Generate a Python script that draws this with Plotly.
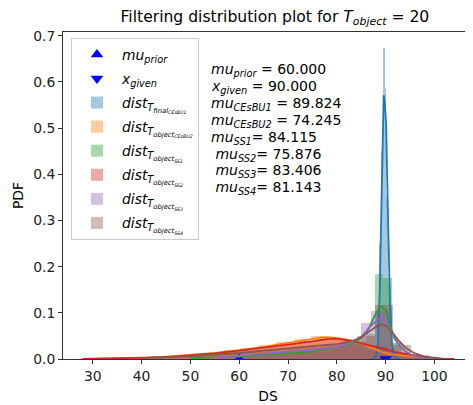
import plotly.graph_objects as go

# ---------------- data ----------------
mu_prior = 60.0
x_given = 90.0
mu_values = [60.000, 90.000, 89.824, 74.245, 84.115, 75.876, 83.406, 81.143]

x_ticks = [30, 40, 50, 60, 70, 80, 90, 100]
y_ticks = [0.0, 0.1, 0.2, 0.3, 0.4, 0.5, 0.6, 0.7]

# histograms: left bin edges, bin width, heights
blue_left = [87.72, 88.07, 88.42, 88.77, 89.12, 89.47, 89.82, 90.17, 90.52, 90.87, 91.22, 91.57]
blue_w = 0.35
blue_h = [0.008, 0.03, 0.10, 0.25, 0.45, 0.674, 0.586, 0.35, 0.16, 0.06, 0.02, 0.005]

orange_left = [28.0, 31.6, 35.2, 38.8, 42.4, 46.0, 49.6, 53.2, 56.8, 60.4, 64.0, 67.6, 71.2, 74.8, 78.4, 82.0, 85.6, 89.2, 92.8, 96.4]
orange_w = 3.6
orange_h = [0.001, 0.001, 0.002, 0.003, 0.005, 0.007, 0.010, 0.014, 0.019, 0.024, 0.030, 0.036, 0.044, 0.049, 0.045, 0.034, 0.020, 0.010, 0.006, 0.002]

green_left = [59.8, 61.55, 63.3, 65.05, 66.8, 68.55, 70.3, 72.05, 73.8, 75.55, 77.3, 79.05, 80.8, 82.55, 84.3, 86.05, 87.8, 89.55, 91.3, 93.05, 94.8]
green_w = 1.75
green_h = [0.003, 0.004, 0.005, 0.006, 0.008, 0.009, 0.011, 0.012, 0.014, 0.016, 0.018, 0.022, 0.026, 0.030, 0.038, 0.055, 0.183, 0.176, 0.035, 0.012, 0.004]

red_left = [27.6, 31.3, 35.0, 38.7, 42.4, 46.1, 49.8, 53.5, 57.2, 60.9, 64.6, 68.3, 72.0, 75.7, 79.4, 83.1, 86.8, 90.5, 94.2, 97.9]
red_w = 3.7
red_h = [0.001, 0.001, 0.001, 0.002, 0.004, 0.006, 0.009, 0.012, 0.017, 0.022, 0.027, 0.032, 0.038, 0.044, 0.043, 0.035, 0.026, 0.014, 0.007, 0.002]

purple_left = [55.6, 57.7, 59.8, 61.9, 64.0, 66.1, 68.2, 70.3, 72.4, 74.5, 76.6, 78.7, 80.8, 82.9, 85.0, 87.1, 89.2, 91.3, 93.4, 95.5]
purple_w = 2.1
purple_h = [0.003, 0.005, 0.006, 0.008, 0.010, 0.012, 0.014, 0.016, 0.018, 0.020, 0.022, 0.025, 0.028, 0.035, 0.077, 0.103, 0.105, 0.035, 0.010, 0.003]

brown_left = [39.7, 43.4, 47.1, 50.8, 54.5, 58.2, 61.9, 65.6, 69.3, 73.0, 76.7, 80.4, 84.1, 87.8, 91.5, 95.2, 98.9]
brown_w = 3.7
brown_h = [0.002, 0.004, 0.005, 0.007, 0.010, 0.013, 0.016, 0.020, 0.024, 0.027, 0.030, 0.034, 0.050, 0.118, 0.030, 0.008, 0.002]

# KDE curves: (x, pdf) points
blue_kde_x = [87.0, 87.5, 88.0, 88.4, 88.8, 89.2, 89.6, 89.8, 90.1, 90.5, 90.9, 91.3, 91.8, 92.5, 93.0]
blue_kde_y = [0.0, 0.001, 0.006, 0.03, 0.15, 0.35, 0.571, 0.56, 0.51, 0.30, 0.12, 0.03, 0.005, 0.001, 0.0]

orange_kde_x = [28, 35, 40, 45, 50, 55, 60, 65, 70, 75, 77, 79, 82, 85, 87, 89, 91, 93, 95, 98, 101]
orange_kde_y = [0.0, 0.001, 0.002, 0.005, 0.009, 0.013, 0.019, 0.026, 0.035, 0.044, 0.047, 0.047, 0.042, 0.033, 0.025, 0.016, 0.010, 0.008, 0.006, 0.002, 0.0]

green_kde_x = [50, 60, 70, 75, 80, 83, 85, 86.5, 87.5, 88.5, 89.3, 90.2, 90.8, 91.8, 92.9, 94, 95, 97, 100, 102]
green_kde_y = [0.002, 0.005, 0.012, 0.016, 0.025, 0.032, 0.045, 0.065, 0.088, 0.108, 0.114, 0.103, 0.075, 0.045, 0.028, 0.017, 0.010, 0.004, 0.001, 0.0]

red_kde_x = [28, 35, 40, 45, 50, 55, 60, 65, 70, 75, 78, 80, 83, 86, 89, 92, 95, 98, 101, 104]
red_kde_y = [0.0, 0.001, 0.002, 0.004, 0.008, 0.012, 0.018, 0.024, 0.031, 0.038, 0.043, 0.044, 0.039, 0.031, 0.024, 0.015, 0.009, 0.004, 0.001, 0.0]

purple_kde_x = [55, 60, 65, 70, 75, 80, 83, 85, 87, 88.3, 89.1, 90, 91, 92, 93, 94, 96, 98, 100]
purple_kde_y = [0.003, 0.007, 0.011, 0.016, 0.020, 0.026, 0.035, 0.048, 0.072, 0.085, 0.088, 0.082, 0.065, 0.043, 0.027, 0.016, 0.006, 0.002, 0.0]

brown_kde_x = [40, 50, 60, 65, 70, 75, 80, 83, 85, 87, 88.3, 89.2, 90.2, 91.2, 92.5, 94, 96, 98, 100, 102]
brown_kde_y = [0.002, 0.006, 0.013, 0.018, 0.024, 0.028, 0.032, 0.038, 0.047, 0.063, 0.072, 0.075, 0.071, 0.060, 0.042, 0.025, 0.012, 0.005, 0.002, 0.0]

# ---------------- figure ----------------
FONT = "DejaVu Sans"
series = [
    ("<i>dist</i><sub><i>T</i><sub><i>final</i><sub><i>CEsBU1</i></sub></sub></sub>", "#1f77b4", blue_left, blue_w, blue_h, blue_kde_x, blue_kde_y),
    ("<i>dist</i><sub><i>T</i><sub><i>object</i><sub><i>CEsBU2</i></sub></sub></sub>", "#ff7f0e", orange_left, orange_w, orange_h, orange_kde_x, orange_kde_y),
    ("<i>dist</i><sub><i>T</i><sub><i>object</i><sub><i>SS1</i></sub></sub></sub>", "#2ca02c", green_left, green_w, green_h, green_kde_x, green_kde_y),
    ("<i>dist</i><sub><i>T</i><sub><i>object</i><sub><i>SS2</i></sub></sub></sub>", "#d62728", red_left, red_w, red_h, red_kde_x, red_kde_y),
    ("<i>dist</i><sub><i>T</i><sub><i>object</i><sub><i>SS3</i></sub></sub></sub>", "#9467bd", purple_left, purple_w, purple_h, purple_kde_x, purple_kde_y),
    ("<i>dist</i><sub><i>T</i><sub><i>object</i><sub><i>SS4</i></sub></sub></sub>", "#8c564b", brown_left, brown_w, brown_h, brown_kde_x, brown_kde_y),
]

fig = go.Figure()

fig.add_trace(go.Scatter(x=[mu_prior], y=[0], mode="markers", name="<i>mu</i><sub><i>prior</i></sub>",
                         marker=dict(symbol="triangle-up", size=11, color="blue"),
                         legendrank=1, legendgroup="g_prior"))
fig.add_trace(go.Scatter(x=[x_given], y=[0], mode="markers", name="<i>x</i><sub><i>given</i></sub>",
                         marker=dict(symbol="triangle-down", size=11, color="blue"),
                         legendrank=2, legendgroup="g_given"))

for i, (name, col, left, w, h, kx, ky) in enumerate(series):
    fig.add_trace(go.Bar(x=left, y=h, width=w, offset=0, name=name, marker_color=col,
                         opacity=0.4, marker_line_width=0, legendrank=10 + i,
                         legendgroup="g%d" % i))
for i, (name, col, left, w, h, kx, ky) in enumerate(series):
    fig.add_trace(go.Scatter(x=kx, y=ky, mode="lines", line=dict(color=col, width=1.8),
                             showlegend=False, hoverinfo="skip", legendgroup="g%d" % i))

text_lines = [
    "<i>mu</i><sub><i>prior</i></sub> = %.3f" % mu_values[0],
    "<i>x</i><sub><i>given</i></sub> = %.3f" % mu_values[1],
    "<i>mu</i><sub><i>CEsBU1</i></sub> = %.3f" % mu_values[2],
    "<i>mu</i><sub><i>CEsBU2</i></sub> = %.3f" % mu_values[3],
    "<i>mu</i><sub><i>SS1</i></sub>= %.3f" % mu_values[4],
    " <i>mu</i><sub><i>SS2</i></sub>= %.3f" % mu_values[5],
    " <i>mu</i><sub><i>SS3</i></sub>= %.3f" % mu_values[6],
    " <i>mu</i><sub><i>SS4</i></sub>= %.3f" % mu_values[7],
]
# figure is placed with an 8px page margin: layout in figure pixels
W, H = 465, 397
ML, MR, MT, MB = 55, 0, 24, 46
plot_h = H - MT - MB
first_line_px = 70 - 8 - MT   # line centre below plot top
line_step = 16.9
for k, line in enumerate(text_lines):
    fig.add_annotation(xref="paper", yref="paper", x=0.356, y=1 - (first_line_px + k * line_step) / plot_h,
                       xanchor="left", yanchor="middle", align="left", showarrow=False, text=line,
                       font=dict(family=FONT, size=14, color="black"))

axis_common = dict(showline=True, linecolor="#333333", linewidth=1, showgrid=False, zeroline=False,
                   ticks="outside", ticklen=4, tickcolor="#333333",
                   tickfont=dict(family=FONT, size=13.9, color="#222222"))

fig.update_layout(
    width=W, height=H,
    margin=dict(l=ML, r=MR, t=MT, b=MB, autoexpand=False),
    paper_bgcolor="white", plot_bgcolor="white",
    barmode="overlay", bargap=0,
    font=dict(family=FONT, size=13.9, color="black"),
    title=dict(text="Filtering distribution plot for <i>T</i><sub><i>object</i></sub> = 20",
               xref="container", x=0.574, xanchor="center", yref="container", y=0.978, yanchor="middle",
               font=dict(family=FONT, size=15.6, color="black")),
    xaxis=dict(range=[23.9, 107.9], tickvals=x_ticks, ticktext=[str(t) for t in x_ticks], mirror=True,
               title=dict(text="DS", font=dict(family=FONT, size=13.9), standoff=8), **axis_common),
    yaxis=dict(range=[0, 0.708], tickvals=y_ticks, ticktext=["%.1f" % t for t in y_ticks], mirror=False,
               title=dict(text="PDF", font=dict(family=FONT, size=13.9), standoff=6), **axis_common),
    legend=dict(x=0.0195, y=0.982, xanchor="left", yanchor="top", bgcolor="rgba(255,255,255,0.8)",
                bordercolor="#cccccc", borderwidth=1, font=dict(family=FONT, size=13.9),
                tracegroupgap=3, itemwidth=40),
    showlegend=True,
)

fig.write_html("out.html")
